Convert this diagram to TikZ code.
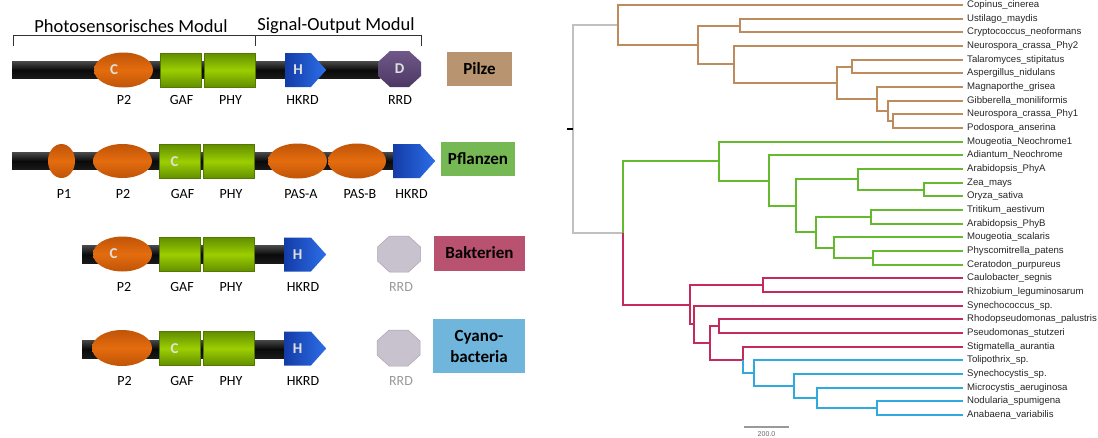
\documentclass[tikz,border=0pt]{standalone}
\usepackage{fontspec}
\setmainfont{Carlito}
\newfontfamily\treefont{Liberation Sans}
\usetikzlibrary{shapes.geometric,shapes.symbols,positioning}

\definecolor{pilzline}{RGB}{190,140,92}
\definecolor{pilzbox}{RGB}{184,148,112}
\definecolor{plantline}{RGB}{98,186,44}
\definecolor{plantbox}{RGB}{118,184,84}
\definecolor{bactline}{RGB}{196,42,92}
\definecolor{bactbox}{RGB}{184,82,112}
\definecolor{cyanline}{RGB}{48,170,222}
\definecolor{cyanbox}{RGB}{112,182,220}
\definecolor{rootgray}{RGB}{192,192,192}
\definecolor{pasorange}{RGB}{228,108,14}
\definecolor{pasdark}{RGB}{192,84,8}
\definecolor{gaflight}{RGB}{156,206,0}
\definecolor{gafdark}{RGB}{98,142,0}
\definecolor{hklight}{RGB}{44,110,232}
\definecolor{hkdark}{RGB}{20,60,168}
\definecolor{rrdpurple}{RGB}{96,70,124}
\definecolor{rrdgray}{RGB}{200,193,206}

\begin{document}
\begin{tikzpicture}[
    x=1pt, y=-1pt,
    backbone/.style={top color=black!72, bottom color=black!90, middle color=black!96},
    pasdom/.style={ellipse, inner sep=0, minimum width=59pt, minimum height=35pt,
        top color=pasdark, bottom color=pasdark, middle color=pasorange},
    gafdom/.style={rectangle, inner sep=0, minimum height=34pt, draw=gafdark!85!black, line width=0.4pt,
        top color=gafdark, bottom color=gafdark, middle color=gaflight},
    hkdom/.style={signal, signal to=east, signal pointer angle=96, inner sep=0, anchor=west,
        minimum width=41pt, minimum height=34pt, left color=hkdark, right color=hklight},
    rrdon/.pic={\path[top color=rrdpurple!90!white, bottom color=rrdpurple!80!black]
        (-21.5,-7) -- (-9.5,-18) -- (9.5,-18) -- (21.5,-7) -- (21.5,7) -- (9.5,18) -- (-9.5,18) -- (-21.5,7) -- cycle;},
    rrdoff/.pic={\path[fill=rrdgray, draw=rrdgray!85!black, line width=0.5pt]
        (-21.5,-7) -- (-9.5,-18) -- (9.5,-18) -- (21.5,-7) -- (21.5,7) -- (9.5,18) -- (-9.5,18) -- (-21.5,7) -- cycle;},
    letter/.style={inner sep=0, text=white!88!black, font=\bfseries\fontsize{15}{15}\selectfont},
    dlabel/.style={inner sep=0, font=\fontsize{14}{16}\selectfont},
    offlabel/.style={dlabel, text=black!40},
    header/.style={inner sep=0, font=\fontsize{18.5}{20}\selectfont},
    taxbox/.style={rectangle, inner sep=0, align=center, font=\bfseries\fontsize{17}{21}\selectfont},
    leaf/.style={anchor=west, inner xsep=4pt, inner ysep=0, text height=6.8pt, text depth=2pt,
        text=black!85, font=\treefont\fontsize{9.6}{10}\selectfont},
    branch/.style={line width=2pt},
  ]
\useasboundingbox (0,0) rectangle (1098,437);

% --- domain architecture
\node[header] (photo) at (131,26) {Photosensorisches Modul};
\node[header] (signal) at (336,26) {Signal-Output Modul};
\draw[black!80, line width=0.8pt] (13,46) -- (13,35) -- (421,35) -- (421,46) (255,35) -- (255,46);

% Pilze
\path[backbone] (12,61.5) rectangle (380,78.5);
\node[pasdom] (p2a) at (123.5,70) {};
\node[gafdom, minimum width=41pt] (gafa) at (180.5,70) {};
\node[gafdom, minimum width=51pt] (phya) at (229.5,70) {};
\node[hkdom] (hka) at (285,70) {};
\pic (rrda) at (399.5,69) {rrdon};
\node[letter] (ca) at ([xshift=-9.5pt]p2a.center) {C};
\node[letter] (ha) at ([xshift=13pt]hka.west) {H};
\node[letter] (da) at (399.5,69) {D};
\node[dlabel] (lp2a) at (124,100) {P2};
\node[dlabel] (lgafa) at (181.5,100) {GAF};
\node[dlabel] (lphya) at (230.5,100) {PHY};
\node[dlabel] (lhka) at (302.5,100) {HKRD};
\node[dlabel] (lrrda) at (400,100) {RRD};
\node[taxbox, fill=pilzbox, minimum width=65pt, minimum height=34pt] (pilze) at (479.5,69) {Pilze};

% Pflanzen
\path[backbone] (12,152.5) rectangle (395,169.5);
\node[pasdom, minimum width=27pt, minimum height=34pt] (p1b) at (61.5,161) {};
\node[pasdom, minimum height=34pt] (p2b) at (122.5,161) {};
\node[gafdom, minimum width=41pt] (gafb) at (179.5,161.5) {};
\node[gafdom, minimum width=51pt] (phyb) at (229,161.5) {};
\node[pasdom] (pasab) at (297.5,161) {};
\node[pasdom, minimum width=58pt] (pasbb) at (357,161) {};
\node[hkdom, minimum width=42pt] (hkb) at (393,161) {};
\node[letter] (cb) at ([xshift=-5pt]gafb.center) {C};
\node[dlabel] (lp1b) at (64,194) {P1};
\node[dlabel] (lp2b) at (123,194) {P2};
\node[dlabel] (lgafb) at (182.5,194) {GAF};
\node[dlabel] (lphyb) at (231,194) {PHY};
\node[dlabel] (lpasab) at (301,194) {PAS-A};
\node[dlabel] (lpasbb) at (360,194) {PAS-B};
\node[dlabel] (lhkb) at (411.5,194) {HKRD};
\node[taxbox, fill=plantbox, minimum width=74pt, minimum height=34pt] (pflanzen) at (478,159) {Pflanzen};

% Bakterien
\path[backbone] (82,245.5) rectangle (286,263.5);
\node[pasdom] (p2c) at (122.5,254) {};
\node[gafdom, minimum width=41pt] (gafc) at (180,254.5) {};
\node[gafdom, minimum width=51pt] (phyc) at (229,254.5) {};
\node[hkdom, minimum width=42pt] (hkc) at (284,254.5) {};
\pic (rrdc) at (399,254) {rrdoff};
\node[letter] (cc) at ([xshift=-9pt]p2c.center) {C};
\node[letter] (hc) at ([xshift=13.5pt]hkc.west) {H};
\node[dlabel] (lp2c) at (124,287) {P2};
\node[dlabel] (lgafc) at (182,287) {GAF};
\node[dlabel] (lphyc) at (231,287) {PHY};
\node[dlabel] (lhkc) at (303,287) {HKRD};
\node[offlabel] (lrrdc) at (401,287) {RRD};
\node[taxbox, fill=bactbox, minimum width=91pt, minimum height=35pt] (bakterien) at (479.5,253) {Bakterien};

% Cyanobakterien
\path[backbone] (82,340) rectangle (286,358);
\node[pasdom, minimum width=60pt, minimum height=36pt] (p2d) at (122,348) {};
\node[gafdom, minimum width=41pt] (gafd) at (179.5,348.5) {};
\node[gafdom, minimum width=51pt] (phyd) at (229,348.5) {};
\node[hkdom, minimum width=42pt] (hkd) at (284,348.5) {};
\pic (rrdd) at (398.5,348) {rrdoff};
\node[letter] (cd) at ([xshift=-5pt]gafd.center) {C};
\node[letter] (hd) at ([xshift=13.5pt]hkd.west) {H};
\node[dlabel] (lp2d) at (124.5,381) {P2};
\node[dlabel] (lgafd) at (182,381) {GAF};
\node[dlabel] (lphyd) at (231,381) {PHY};
\node[dlabel] (lhkd) at (303,381) {HKRD};
\node[offlabel] (lrrdd) at (401,381) {RRD};
\node[taxbox, fill=cyanbox, minimum width=92pt, minimum height=54pt] (cyano) at (479,346) {Cyano-\\bacteria};

% --- tree: leaves
\node[leaf] (copinus) at (963,5.0) {Copinus\_cinerea};
\node[leaf] (ustilago) at (963,18.7) {Ustilago\_maydis};
\node[leaf] (crypto) at (963,32.3) {Cryptococcus\_neoformans};
\node[leaf] (ncphy2) at (963,46.0) {Neurospora\_crassa\_Phy2};
\node[leaf] (talaro) at (963,59.7) {Talaromyces\_stipitatus};
\node[leaf] (asperg) at (963,73.4) {Aspergillus\_nidulans};
\node[leaf] (magna) at (963,87.0) {Magnaporthe\_grisea};
\node[leaf] (gibber) at (963,100.7) {Gibberella\_moniliformis};
\node[leaf] (ncphy1) at (963,114.4) {Neurospora\_crassa\_Phy1};
\node[leaf] (podo) at (963,128.0) {Podospora\_anserina};
\node[leaf] (mougneo) at (963,141.7) {Mougeotia\_Neochrome1};
\node[leaf] (adiant) at (963,155.4) {Adiantum\_Neochrome};
\node[leaf] (araphya) at (963,169.0) {Arabidopsis\_PhyA};
\node[leaf] (zea) at (963,182.7) {Zea\_mays};
\node[leaf] (oryza) at (963,196.4) {Oryza\_sativa};
\node[leaf] (tritik) at (963,210.1) {Tritikum\_aestivum};
\node[leaf] (araphyb) at (963,223.7) {Arabidopsis\_PhyB};
\node[leaf] (mougsc) at (963,237.4) {Mougeotia\_scalaris};
\node[leaf] (physco) at (963,251.1) {Physcomitrella\_patens};
\node[leaf] (cerato) at (963,264.7) {Ceratodon\_purpureus};
\node[leaf] (caulo) at (963,278.4) {Caulobacter\_segnis};
\node[leaf] (rhizo) at (963,292.1) {Rhizobium\_leguminosarum};
\node[leaf] (synechococ) at (963,305.7) {Synechococcus\_sp.};
\node[leaf] (rhodo) at (963,319.4) {Rhodopseudomonas\_palustris};
\node[leaf] (pseudo) at (963,333.1) {Pseudomonas\_stutzeri};
\node[leaf] (stigma) at (963,346.8) {Stigmatella\_aurantia};
\node[leaf] (tolipo) at (963,360.4) {Tolipothrix\_sp.};
\node[leaf] (synechocy) at (963,374.1) {Synechocystis\_sp.};
\node[leaf] (microc) at (963,387.8) {Microcystis\_aeruginosa};
\node[leaf] (nodul) at (963,401.4) {Nodularia\_spumigena};
\node[leaf] (anab) at (963,415.1) {Anabaena\_variabilis};

% inner nodes
\coordinate (root) at (573,129);
\coordinate (tick) at (567,129);
\coordinate (F0) at (618,24.97);
\coordinate (F1) at (698,44.94);
\coordinate (F2) at (740,25.5);
\coordinate (F3) at (734,64.38);
\coordinate (F4) at (837,82.76);
\coordinate (F5) at (852,66.55);
\coordinate (F6) at (877,98.98);
\coordinate (F7) at (888,110.95);
\coordinate (F8) at (893,121.2);
\coordinate (GR) at (623,233);
\coordinate (G1) at (719,161.15);
\coordinate (G2) at (769,180.59);
\coordinate (G3) at (796,205.78);
\coordinate (G4) at (858,179.28);
\coordinate (G5) at (924,189.55);
\coordinate (G6) at (816,232.28);
\coordinate (G7) at (871,216.9);
\coordinate (G8) at (834,247.65);
\coordinate (G9) at (873,257.9);
\coordinate (R0) at (690,304.84);
\coordinate (R1) at (763,285.25);
\coordinate (R2) at (694,324.42);
\coordinate (R3) at (710,343.14);
\coordinate (R4) at (719,326.25);
\coordinate (R5) at (743,360.02);
\coordinate (B0) at (754,373.24);
\coordinate (B1) at (794,386.07);
\coordinate (B2) at (817,398.03);
\coordinate (B3) at (877,408.25);

% branches
\draw[branch, rootgray] (root) |- (F0) (root) |- (GR);
\draw[branch, black] (tick) -- (root);
\draw[branch, pilzline] (F0) |- (copinus.west) (F0) |- (F1)
    (F1) |- (F2) (F1) |- (F3)
    (F2) |- (ustilago.west) (F2) |- (crypto.west)
    (F3) |- (ncphy2.west) (F3) |- (F4)
    (F4) |- (F5) (F4) |- (F6)
    (F5) |- (talaro.west) (F5) |- (asperg.west)
    (F6) |- (magna.west) (F6) |- (F7)
    (F7) |- (gibber.west) (F7) |- (F8)
    (F8) |- (ncphy1.west) (F8) |- (podo.west);
\draw[branch, plantline] (GR) |- (G1)
    (G1) |- (mougneo.west) (G1) |- (G2)
    (G2) |- (adiant.west) (G2) |- (G3)
    (G3) |- (G4) (G3) |- (G6)
    (G4) |- (araphya.west) (G4) |- (G5)
    (G5) |- (zea.west) (G5) |- (oryza.west)
    (G6) |- (G7) (G6) |- (G8)
    (G7) |- (tritik.west) (G7) |- (araphyb.west)
    (G8) |- (mougsc.west) (G8) |- (G9)
    (G9) |- (physco.west) (G9) |- (cerato.west);
\draw[branch, bactline] (GR) |- (R0)
    (R0) |- (R1) (R0) |- (R2)
    (R1) |- (caulo.west) (R1) |- (rhizo.west)
    (R2) |- (synechococ.west) (R2) |- (R3)
    (R3) |- (R4) (R3) |- (R5)
    (R4) |- (rhodo.west) (R4) |- (pseudo.west)
    (R5) |- (stigma.west);
\draw[branch, cyanline] (R5) |- (B0)
    (B0) |- (tolipo.west) (B0) |- (B1)
    (B1) |- (synechocy.west) (B1) |- (B2)
    (B2) |- (microc.west) (B2) |- (B3)
    (B3) |- (nodul.west) (B3) |- (anab.west);

% scale bar
\coordinate (sbl) at (744,427);
\coordinate (sbr) at (789,427);
\draw[line width=1.8pt, black!40] (sbl) -- (sbr);
\node[anchor=south, inner sep=0, text=black!60, font=\treefont\fontsize{7}{7}\selectfont] (sbtext) at (766.5,437) {200.0};

\end{tikzpicture}
\end{document}
